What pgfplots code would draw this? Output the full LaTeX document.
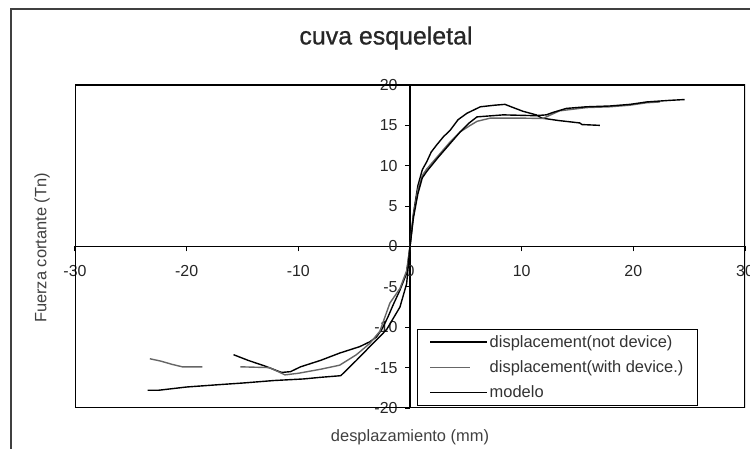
\documentclass[border=0pt]{standalone}
\usepackage{fontspec}
\setmainfont{Liberation Sans}
\newfontfamily\titlefont[FakeBold=0.8]{Liberation Sans}
\usepackage{pgfplots}
\pgfplotsset{compat=1.18}
\pgfplotsset{
  longleg/.style={legend image code/.code={\draw[##1] (0bp,0bp) -- (57bp,0bp);}},
  shortleg/.style={legend image code/.code={\draw[##1] (0bp,0bp) -- (40bp,0bp); \path (57bp,0bp);}},
}

\begin{document}
\begin{tikzpicture}[x=1bp,y=1bp]
\path[use as bounding box] (0,0) rectangle (750,449);
% outer chart frame (cut off at right and bottom)
\draw[line width=1.4bp, black!75] (11,-20) -- (11,440) -- (770,440);

\begin{axis}[
  at={(75bp,41bp)}, anchor=south west,
  width=670bp, height=323bp, scale only axis,
  xmin=-30, xmax=30, ymin=-20, ymax=20,
  enlargelimits=false,
  axis lines=middle,
  axis line style={-, line width=1.3bp},
  hide obscured x ticks=false, hide obscured y ticks=false,
  tick align=outside, major tick length=5bp,
  tick style={line width=1.1bp, black},
  xtick={-30,-20,-10,0,10,20,30},
  xticklabels={-30,-20,-10,0,10,20,30},
  ytick={-20,-15,-10,-5,0,5,10,15,20},
  yticklabels={-20,-15,-10,-5,0,5,10,15,20},
  tick label style={font=\fontsize{16}{18}\selectfont, text=black!85},
  xticklabel style={yshift=-10bp},
  yticklabel style={xshift=-4bp},
  legend style={at={(0.51,0.006)}, anchor=south west, draw=black,
    line width=1.3bp, font=\fontsize{16.5}{19}\selectfont,
    text=black!80, row sep=8bp, inner xsep=12bp, inner ysep=4bp},
  legend cell align=left,
  every axis plot/.append style={line width=1.4bp},
]
% box round the plot area
\draw[line width=1.3bp] (rel axis cs:0,0) rectangle (rel axis cs:1,1);

% displacement (not device)
\addplot[black, longleg] coordinates {
  (-15.8,-13.4) (-14.5,-14.1) (-13,-14.8) (-11.5,-15.6) (-10.7,-15.5)
  (-9.8,-14.9) (-8,-14.1) (-6.3,-13.2) (-4.5,-12.4) (-3.6,-11.8)
  (-3,-11.2) (-2.5,-10.2) (-2,-8.8) (-1.5,-7.2) (-0.9,-5.4) (-0.3,-3.3)
  (0,0) (0.3,4) (0.7,7.5) (1.1,9.5) (1.5,10.5) (1.9,11.7) (2.4,12.6)
  (3,13.6) (3.6,14.4) (4.3,15.7) (5.1,16.5) (6.3,17.3) (7.6,17.5)
  (8.5,17.6) (9.25,17.2) (10.1,16.75) (11.3,16.3) (11.8,15.9)
  (13.3,15.6) (15.2,15.3) (15.4,15.1) (17,15.0)
};
\addlegendentry{displacement(not device)}

% displacement (with device), first piece before the gap
\addplot[black!60, forget plot] coordinates {
  (-23.3,-13.9) (-22.3,-14.2) (-21.3,-14.6) (-20.4,-14.9) (-18.6,-14.9)
};
\addplot[black!60, shortleg] coordinates {
  (-15.2,-14.9) (-12.6,-15.0) (-11.8,-15.5) (-11.2,-15.9) (-10,-15.7)
  (-8,-15.2) (-6.3,-14.7) (-4.8,-13.4) (-3.6,-12.0) (-2.7,-10.5)
  (-1.8,-7.0) (-0.9,-5.2) (-0.3,-3.0) (0,0) (0.3,3.8) (0.7,7.0)
  (1.1,8.8) (1.5,9.6) (2.5,11.2) (3.5,12.8) (4.5,14.2) (5.4,15.0)
  (6,15.5) (7.2,15.9) (9.9,15.9) (11.9,15.85) (12.6,16.3) (13.4,16.8)
  (15.8,17.2) (17.9,17.3) (19.7,17.5) (21.2,17.8) (22.4,17.9)
};
\addlegendentry{displacement(with device.)}

% modelo
\addplot[black, longleg] coordinates {
  (-23.5,-17.8) (-22.5,-17.8) (-20,-17.4) (-17,-17.1) (-14.9,-16.9)
  (-12.2,-16.6) (-9.5,-16.4) (-8,-16.2) (-6.2,-16.0) (-4.8,-14.1)
  (-3.6,-12.4) (-2.1,-10.3) (-0.9,-7.5) (-0.3,-4.6) (0,0) (0.3,3.5)
  (0.7,6.5) (1.1,8.5) (1.5,9.3) (2.5,11) (3.5,12.6) (4.5,14.2)
  (5.3,15.3) (6,16.05) (8.35,16.3) (11.2,16.2) (12.2,16.3) (12.8,16.6)
  (14,17.1) (15.8,17.3) (17.9,17.4) (19.7,17.6) (21.2,17.9)
  (23.3,18.1) (24.6,18.2)
};
\addlegendentry{modelo}
\end{axis}

\node[font=\titlefont\fontsize{25}{28}\selectfont, text=black!85] at (386,411) {cuva esqueletal};
\node[font=\fontsize{16.5}{19}\selectfont, text=black!75] at (410,12) {desplazamiento (mm)};
\node[font=\fontsize{16.5}{19}\selectfont, text=black!75, rotate=90] at (42,201) {Fuerza cortante (Tn)};
\end{tikzpicture}
\end{document}
